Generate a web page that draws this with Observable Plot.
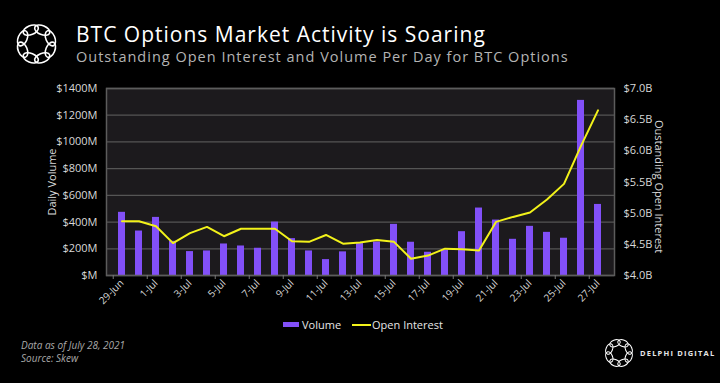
<!DOCTYPE html>
<html>
<head>
<meta charset="utf-8">
<script src="https://cdn.jsdelivr.net/npm/d3@7"></script>
<script src="https://cdn.jsdelivr.net/npm/@observablehq/plot@0.6"></script>
<style>
  html, body { margin: 0; padding: 0; background: #000; }
  #wrap { position: relative; width: 720px; height: 383px; background: #000; overflow: hidden; font-family: "Open Sans", sans-serif; color: #fff; }
  .abs { position: absolute; white-space: nowrap; }
  #title { left: 76px; top: 24px; font-size: 21px; line-height: 21px; letter-spacing: 1px; color: #fff; }
  #subtitle { left: 76px; top: 49.5px; font-size: 14.5px; line-height: 14.5px; letter-spacing: 1px; color: #b4b4b4; }
  #rlabel { left: 652px; top: 120px; height: 124px; font-size: 11px; color: #d9d9d9; writing-mode: vertical-rl; text-align: center; }
  #legend { left: 283px; top: 317px; font-size: 11px; color: #e6e6e6; display: flex; align-items: center; }
  #footer { left: 21px; top: 339px; font-size: 10px; font-style: italic; color: #a8a8a8; line-height: 13px; }
  #brand { left: 640px; top: 348px; font-size: 7.5px; font-weight: bold; letter-spacing: 1.2px; color: #e6e6e6; }
  .plotlayer { position: absolute; left: 0; top: 70px; }
</style>
</head>
<body>
<div id="wrap">
  <svg class="abs" style="left:0;top:0" width="80" height="80" id="logo1"></svg>
  <svg class="abs" style="left:595px;top:330px" width="50" height="50" id="logo2"></svg>
  <div id="title" class="abs">BTC Options Market Activity is Soaring</div>
  <div id="subtitle" class="abs">Outstanding Open Interest and Volume Per Day for BTC Options</div>
  <div id="chart1" class="plotlayer"></div>
  <div id="chart2" class="plotlayer"></div>
  <div id="rlabel" class="abs">Oustanding Open Interest</div>
  <div id="legend" class="abs">
    <span style="display:inline-block;width:16px;height:5px;background:#8250f8;margin-right:3px"></span>Volume
    <span style="display:inline-block;width:19px;height:2px;background:#f2f21a;margin-left:11px;margin-right:1px"></span>Open Interest
  </div>
  <div id="footer" class="abs">Data as of July 28, 2021<br>Source: Skew</div>
  <div id="brand" class="abs">DELPHI DIGITAL</div>
</div>
<script>
// ---- data ----
const dates = ["29-Jun","30-Jun","1-Jul","2-Jul","3-Jul","4-Jul","5-Jul","6-Jul","7-Jul","8-Jul","9-Jul","10-Jul","11-Jul","12-Jul","13-Jul","14-Jul","15-Jul","16-Jul","17-Jul","18-Jul","19-Jul","20-Jul","21-Jul","22-Jul","23-Jul","24-Jul","25-Jul","26-Jul","27-Jul"];
const volumeM = [473,333,435,256,179,184,236,221,204,400,276,184,119,177,239,251,383,249,174,189,328,505,415,271,368,323,279,1311,532];
const openInterestB = [4.87,4.87,4.79,4.52,4.68,4.78,4.63,4.75,4.75,4.75,4.55,4.54,4.65,4.51,4.53,4.57,4.54,4.27,4.32,4.43,4.42,4.40,4.86,4.94,5.01,5.22,5.47,6.08,6.65];
const volumeTicks = [0,200,400,600,800,1000,1200,1400];
const oiTicks = [4.0,4.5,5.0,5.5,6.0,6.5,7.0];
const xLabelDates = dates.filter((d, i) => i % 2 === 0);

const rows = dates.map((d, i) => ({date: d, volume: volumeM[i], oi: openInterestB[i]}));

// ---- layout ----
const W = 720, H = 245, ML = 106, MR = 106, MT = 18, MB = 40;
const PAD = 0.57;
const step = (W - ML - MR) / dates.length;
const xScale = {type: "band", domain: dates, paddingInner: PAD, paddingOuter: PAD / 2};
const textColor = "#d9d9d9";

const p1 = Plot.plot({
  width: W, height: H,
  marginLeft: ML, marginRight: MR, marginTop: MT, marginBottom: MB,
  style: {background: "transparent", fontFamily: "Open Sans, sans-serif", color: textColor, overflow: "visible"},
  x: xScale,
  y: {domain: [0, 1400]},
  marks: [
    Plot.frame({fill: "#1c1a1d", stroke: null}),
    Plot.gridY(volumeTicks, {stroke: "#555", strokeOpacity: 1, strokeWidth: 1.3}),
    Plot.barY(rows, {x: "date", y: "volume", fill: "#8250f8"}),
    Plot.frame({stroke: "#5c5c5c", strokeWidth: 1.5}),
    Plot.axisY(volumeTicks, {
      tickFormat: d => d === 0 ? "$M" : `$${d}M`,
      tickSize: 0, tickPadding: 9, fontSize: 11,
      label: "Daily Volume", labelAnchor: "center", labelArrow: "none", labelOffset: 58
    }),
    Plot.axisX(xLabelDates, {
      tickRotate: -45, tickSize: 0, tickPadding: 6, fontSize: 10, label: null
    }),
    Plot.axisX(xLabelDates, {
      tickSize: 4, text: null, dx: -step / 2, stroke: "#777", label: null
    })
  ]
});
document.getElementById("chart1").appendChild(p1);

const p2 = Plot.plot({
  width: W, height: H,
  marginLeft: ML, marginRight: MR, marginTop: MT, marginBottom: MB,
  style: {background: "transparent", fontFamily: "Open Sans, sans-serif", color: textColor, overflow: "visible"},
  x: {...xScale, axis: null},
  y: {domain: [4, 7]},
  marks: [
    Plot.lineY(rows, {x: "date", y: "oi", stroke: "#f2f21a", strokeWidth: 2}),
    Plot.axisY(oiTicks, {
      anchor: "right",
      tickFormat: d => `$${d.toFixed(1)}B`,
      tickSize: 0, tickPadding: 9, fontSize: 11, label: null
    })
  ]
});
document.getElementById("chart2").appendChild(p2);

// ---- logos (decoration) ----
function knot(svgId, cx, cy, R, rx, ry, sw) {
  const svg = d3.select("#" + svgId);
  for (let k = 0; k < 8; k++) {
    const a = k * 45 + 22.5;
    const rad = a * Math.PI / 180;
    svg.append("ellipse")
      .attr("cx", cx + R * Math.cos(rad)).attr("cy", cy + R * Math.sin(rad))
      .attr("rx", rx).attr("ry", ry)
      .attr("transform", `rotate(${a + 90} ${cx + R * Math.cos(rad)} ${cy + R * Math.sin(rad)})`)
      .attr("fill", "none").attr("stroke", "#fff").attr("stroke-width", sw);
  }
}
knot("logo1", 36.5, 44, 15, 8, 4.5, 1.6);
knot("logo2", 24, 23, 10.5, 5.5, 3.2, 1.1);
</script>
</body>
</html>
